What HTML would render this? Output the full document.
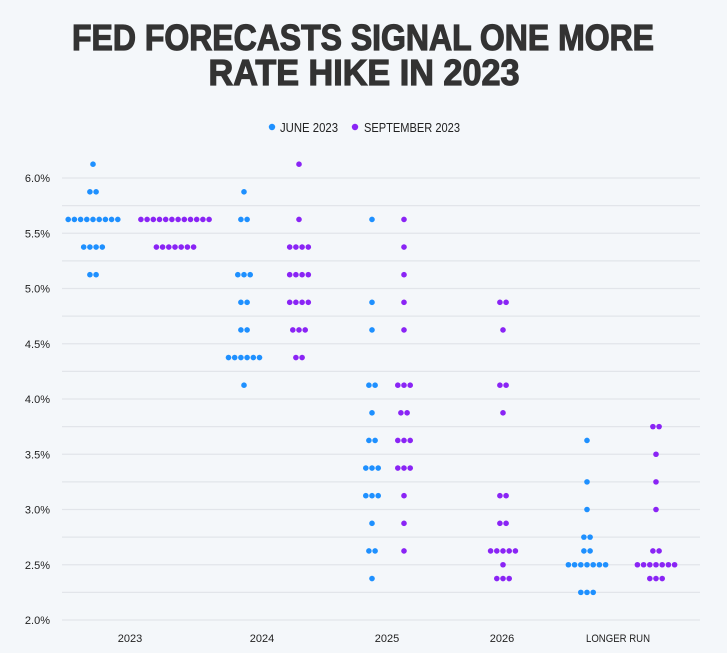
<!DOCTYPE html>
<html><head><meta charset="utf-8"><style>
html,body{margin:0;padding:0;background:#f4f7fa;}
svg{display:block;font-family:"Liberation Sans",sans-serif;}
</style></head><body>
<svg id="c" width="727" height="653" viewBox="0 0 727 653" xmlns="http://www.w3.org/2000/svg">
<rect width="727" height="653" fill="#f4f7fa"/>
<text x="363" y="50" text-anchor="middle" font-size="36" font-weight="bold" fill="#333" stroke="#333" stroke-width="1.2" textLength="582" lengthAdjust="spacingAndGlyphs">FED FORECASTS SIGNAL ONE MORE</text>
<text x="364" y="85" text-anchor="middle" font-size="36" font-weight="bold" fill="#333" stroke="#333" stroke-width="1.2" textLength="311" lengthAdjust="spacingAndGlyphs">RATE HIKE IN 2023</text>
<circle cx="272" cy="127" r="3.2" fill="#1e90ff"/>
<text x="280" y="132" font-size="13" fill="#222" textLength="58" lengthAdjust="spacingAndGlyphs">JUNE 2023</text>
<circle cx="355" cy="127" r="3.2" fill="#8a24f5"/>
<text x="364" y="132" font-size="13" fill="#222" textLength="96" lengthAdjust="spacingAndGlyphs">SEPTEMBER 2023</text>
<g id="grid"></g>
<g id="dots"></g>
<g font-size="11" fill="#222" text-anchor="middle">
<text x="130" y="642">2023</text>
<text x="262" y="642">2024</text>
<text x="387" y="642">2025</text>
<text x="502" y="642">2026</text>
<text x="618" y="642" textLength="64" lengthAdjust="spacingAndGlyphs">LONGER RUN</text>
</g>
</svg>
<script>
var NS="http://www.w3.org/2000/svg";
function y(v){return 178+(6-v)*110.5;}
var g=document.getElementById('grid');
for(var v=2;v<=6.001;v+=0.25){
 var l=document.createElementNS(NS,'line');
 l.setAttribute('x1',62);l.setAttribute('x2',700);
 l.setAttribute('y1',y(v));l.setAttribute('y2',y(v));
 l.setAttribute('stroke','#e2e5ea');l.setAttribute('stroke-width','1.3');g.appendChild(l);
 if(Math.abs(v*2-Math.round(v*2))<0.01){
  var t=document.createElementNS(NS,'text');
  t.setAttribute('x',50);t.setAttribute('y',y(v)+4);t.setAttribute('text-anchor','end');
  t.setAttribute('font-size','11');t.setAttribute('fill','#222');
  t.textContent=v.toFixed(1)+'%';g.appendChild(t);
 }
}
var B='#1e90ff',P='#8a24f5';
var cols=[
 [93,B,[[6.125,1],[5.875,2],[5.625,9],[5.375,4],[5.125,2]]],
 [175,P,[[5.625,12],[5.375,7]]],
 [244,B,[[5.875,1],[5.625,2],[5.125,3],[4.875,2],[4.625,2],[4.375,6],[4.125,1]]],
 [299,P,[[6.125,1],[5.625,1],[5.375,4],[5.125,4],[4.875,4],[4.625,3],[4.375,2]]],
 [372,B,[[5.625,1],[4.875,1],[4.625,1],[4.125,2],[3.875,1],[3.625,2],[3.375,3],[3.125,3],[2.875,1],[2.625,2],[2.375,1]]],
 [404,P,[[5.625,1],[5.375,1],[5.125,1],[4.875,1],[4.625,1],[4.125,3],[3.875,2],[3.625,3],[3.375,3],[3.125,1],[2.875,1],[2.625,1]]],
 [503,P,[[4.875,2],[4.625,1],[4.125,2],[3.875,1],[3.125,2],[2.875,2],[2.625,5],[2.5,1],[2.375,3]]],
 [587,B,[[3.625,1],[3.25,1],[3.0,1],[2.75,2],[2.625,2],[2.5,7],[2.25,3]]],
 [656,P,[[3.75,2],[3.5,1],[3.25,1],[3.0,1],[2.625,2],[2.5,7],[2.375,3]]]
];
var d=document.getElementById('dots');
cols.forEach(function(c){c[2].forEach(function(r){
 for(var i=0;i<r[1];i++){
  var ci=document.createElementNS(NS,'circle');
  ci.setAttribute('cx',c[0]+(i-(r[1]-1)/2)*6.2);
  ci.setAttribute('cy',y(r[0]));ci.setAttribute('r',2.8);ci.setAttribute('fill',c[1]);d.appendChild(ci);
 }
});});
</script>
</body></html>
